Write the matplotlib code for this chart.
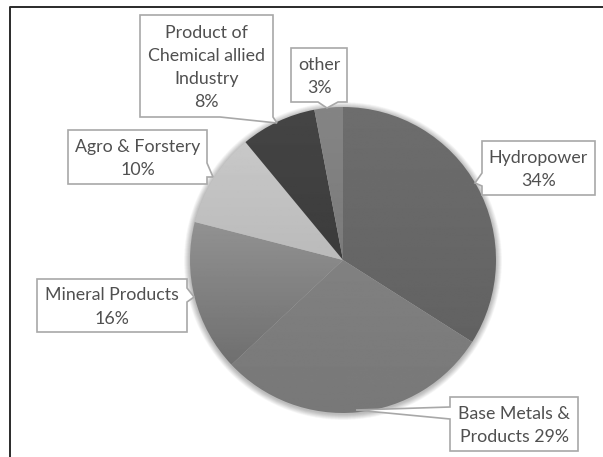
import numpy as np
import matplotlib
matplotlib.use('Agg')
import matplotlib.pyplot as plt
from matplotlib.patches import Polygon, Ellipse

# data
labels = ['Hydropower', 'Base Metals &\nProducts', 'Mineral Products', 'Agro & Forstery',
          'Product of\nChemical allied\nIndustry', 'other']
values = [34, 29, 16, 10, 8, 3]
# top and bottom grey of each slice
greys_top = [0.43, 0.54, 0.68, 0.80, 0.27, 0.52]
greys_bot = [0.37, 0.47, 0.39, 0.66, 0.20, 0.44]

W, H = 603, 457
cx, cy, r = 343, 457 - 260, 153

plt.rcParams['font.family'] = ['Lato', 'DejaVu Sans']
fig = plt.figure(figsize=(W / 100, H / 100), dpi=100, facecolor='white')
ax = fig.add_axes([0, 0, 1, 1])

# soft shadow under the pie
for grow in np.arange(6, 0, -0.5):
    ax.add_patch(Ellipse((cx, cy - 1), 2 * (r + grow), 2 * (r + grow), color='black', alpha=0.025, lw=0, zorder=1))

wedges, _ = ax.pie(values, startangle=90, counterclock=False, center=(cx, cy), radius=r,
                   frame=True, wedgeprops={'linewidth': 0})

# vertical gradient inside each slice
for w, top, bot in zip(wedges, greys_top, greys_bot):
    w.set_facecolor('none')
    grad = np.linspace(top, bot, 256).reshape(-1, 1)
    im = ax.imshow(grad, cmap='gray', vmin=0, vmax=1, extent=(cx - r, cx + r, cy - r, cy + r),
                   aspect='auto', zorder=2)
    im.set_clip_path(w)
ax.set_xlim(0, W)
ax.set_ylim(0, H)
ax.set_aspect('auto')
ax.axis('off')

# outer border, only top and left are visible
ax.plot([10, 10, W], [0, H - 6.5, H - 6.5], color='#2a2a2a', lw=1.4, zorder=5)


def callout(x0, y0, x1, y1, tip, base, text, fs=12.8):
    # box given in image pixels, pointer drawn from the box edge to the tip
    corners = [(x0, y0), (x1, y0), (x1, y1), (x0, y1)]
    pts = corners[:base[0] + 1] + [base[1], tip, base[2]] + corners[base[0] + 1:]
    pts = [(px, H - py) for px, py in pts]
    ax.add_patch(Polygon(pts, closed=True, fc='white', ec='#a8a8a8', lw=1.2, zorder=6))
    ax.text((x0 + x1) / 2, H - (y0 + y1) / 2 - 1.5, text, ha='center', va='center', fontsize=fs,
            color='#505050', linespacing=1.55, zorder=7)


pct = ['%d%%' % v for v in values]
callout(482, 141, 595, 195, (475, 183), (3, (482, 186), (482, 173)), labels[0] + '\n' + pct[0])
callout(450, 397, 578, 451, (356, 410), (3, (450, 419), (450, 407)), 'Base Metals &\nProducts ' + pct[1])
callout(37, 279, 187, 332, (194, 297), (1, (187, 288), (187, 302)), labels[2] + '\n' + pct[2])
callout(68, 130, 207, 184, (213, 177), (1, (207, 163), (207, 177)), labels[3] + '\n' + pct[3])
callout(140, 15, 273, 117, (277, 123), (2, (273, 117), (220, 117)), labels[4] + '\n' + pct[4])
callout(291, 48, 347, 102, (327, 108), (2, (338, 102), (318, 102)), labels[5] + '\n' + pct[5])

fig.savefig('out.png', dpi=100)
